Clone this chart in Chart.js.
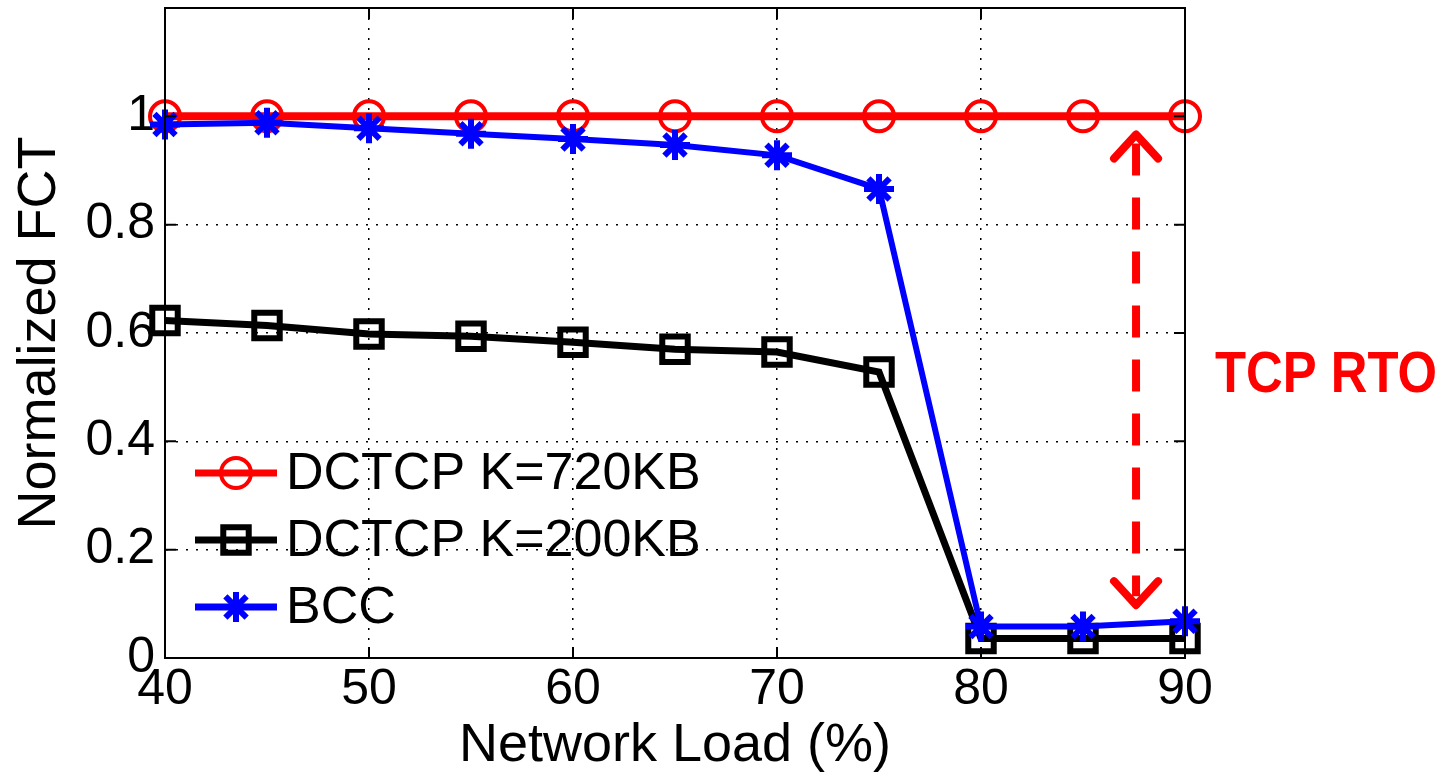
<!DOCTYPE html>
<html>
<head>
<meta charset="utf-8">
<script src="https://cdn.jsdelivr.net/npm/chart.js@4"></script>
<style>
  html, body { margin: 0; padding: 0; background: #fff; }
  #wrap { width: 1444px; height: 779px; position: relative; }
</style>
</head>
<body>
<div id="wrap"><canvas id="fctChart"></canvas></div>
<script>
// ==========================
// DATA
// ==========================

const loads = [40, 45, 50, 55, 60, 65, 70, 75, 80, 85, 90];

const dctcp720 = [1, 1, 1, 1, 1, 1, 1, 1, 1, 1, 1];

const dctcp200 = [0.623, 0.614, 0.598, 0.594, 0.583, 0.57, 0.565, 0.528, 0.036, 0.036, 0.036];

const bcc = [0.985, 0.988, 0.978, 0.968, 0.958, 0.947, 0.928, 0.866, 0.058, 0.058, 0.068];

const seriesNames = ["DCTCP K=720KB", "DCTCP K=200KB", "BCC"];

const yTickValues = [0, 0.2, 0.4, 0.6, 0.8, 1];

// the red "TCP RTO" arrow, in data units
const arrowLoad = 87.6;
const arrowSpan = [0.092, 0.972];

const FONT = "'Liberation Sans', Arial, Helvetica, sans-serif";

function points(ys) {
    return loads.map((x, i) => ({ x: x, y: ys[i] }));
}

// ==========================
// FRAME + INSIDE TICKS
// ==========================

const framePlugin = {
    id: "frame",
    afterDraw(chart) {
        const ctx = chart.ctx;
        const a = chart.chartArea;
        const xs = chart.scales.x;
        const ys = chart.scales.y;
        ctx.save();
        ctx.strokeStyle = "#000";
        ctx.lineWidth = 2;
        ctx.strokeRect(a.left, a.top, a.right - a.left, a.bottom - a.top);
        ctx.beginPath();
        xs.ticks.forEach(t => {
            const px = xs.getPixelForValue(t.value);
            ctx.moveTo(px, a.bottom); ctx.lineTo(px, a.bottom - 11);
            ctx.moveTo(px, a.top); ctx.lineTo(px, a.top + 11);
        });
        ys.ticks.forEach(t => {
            const py = ys.getPixelForValue(t.value);
            ctx.moveTo(a.left, py); ctx.lineTo(a.left + 11, py);
            ctx.moveTo(a.right, py); ctx.lineTo(a.right - 11, py);
        });
        ctx.stroke();
        ctx.restore();
    }
};

// ==========================
// LEGEND (inside, no box)
// ==========================

const legendPlugin = {
    id: "insideLegend",
    afterDatasetsDraw(chart) {
        const ctx = chart.ctx;
        const a = chart.chartArea;
        ctx.save();
        chart.data.datasets.forEach((ds, i) => {
            const y = a.top + 465 + i * 67;
            const x0 = a.left + 30;
            const x1 = a.left + 112;
            ctx.strokeStyle = ds.borderColor;
            ctx.lineWidth = 7;
            ctx.beginPath();
            ctx.moveTo(x0, y);
            ctx.lineTo(x1, y);
            ctx.stroke();
            ctx.lineWidth = ds.pointBorderWidth;
            ctx.fillStyle = ds.pointBackgroundColor;
            ctx.strokeStyle = ds.pointBorderColor;
            Chart.helpers.drawPoint(ctx, {
                pointStyle: ds.pointStyle,
                radius: ds.pointRadius,
                borderWidth: ds.pointBorderWidth,
                rotation: 0
            }, (x0 + x1) / 2, y);
            ctx.fillStyle = "#000";
            ctx.font = "52px " + FONT;
            ctx.textBaseline = "middle";
            ctx.textAlign = "left";
            ctx.fillText(ds.label, x1 + 9, y + 2, 430);
        });
        ctx.restore();
    }
};

// ==========================
// TCP RTO ANNOTATION
// ==========================

const rtoPlugin = {
    id: "rto",
    afterDraw(chart) {
        const ctx = chart.ctx;
        const xs = chart.scales.x;
        const ys = chart.scales.y;
        const x = xs.getPixelForValue(arrowLoad);
        const yTop = ys.getPixelForValue(arrowSpan[1]);
        const yBot = ys.getPixelForValue(arrowSpan[0]);
        ctx.save();
        ctx.strokeStyle = "#ff0000";
        ctx.lineWidth = 8;

        // dashed shaft
        ctx.setLineDash([32, 22]);
        ctx.lineCap = "butt";
        ctx.beginPath();
        ctx.moveTo(x, yTop + 12);
        ctx.lineTo(x, yBot - 12);
        ctx.stroke();

        // open heads
        ctx.setLineDash([]);
        ctx.lineCap = "round";
        ctx.lineJoin = "round";
        ctx.beginPath();
        ctx.moveTo(x - 22, yTop + 27);
        ctx.lineTo(x, yTop + 3);
        ctx.lineTo(x + 22, yTop + 27);
        ctx.moveTo(x - 22, yBot - 27);
        ctx.lineTo(x, yBot - 3);
        ctx.lineTo(x + 22, yBot - 27);
        ctx.stroke();

        ctx.fillStyle = "#ff0000";
        ctx.font = "bold 58px " + FONT;
        ctx.textBaseline = "middle";
        ctx.textAlign = "left";
        ctx.fillText("TCP RTO", chart.chartArea.right + 30, ys.getPixelForValue(0.52), 222);
        ctx.restore();
    }
};

// ==========================
// CHART
// ==========================

const ctx = document.getElementById("fctChart");

new Chart(ctx, {

    type: "line",

    data: {
        datasets: [
            {
                label: seriesNames[0],
                data: points(dctcp720),
                borderColor: "#ff0000",
                backgroundColor: "rgba(0,0,0,0)",
                borderWidth: 8,
                pointStyle: "circle",
                pointRadius: 15,
                pointBorderWidth: 4,
                pointBackgroundColor: "rgba(0,0,0,0)",
                pointBorderColor: "#ff0000",
                clip: false,
                order: 3
            },
            {
                label: seriesNames[1],
                data: points(dctcp200),
                borderColor: "#000000",
                backgroundColor: "rgba(0,0,0,0)",
                borderWidth: 7,
                pointStyle: "rect",
                pointRadius: 18,
                pointBorderWidth: 6,
                pointBackgroundColor: "rgba(0,0,0,0)",
                pointBorderColor: "#000000",
                clip: false,
                order: 2
            },
            {
                label: seriesNames[2],
                data: points(bcc),
                borderColor: "#0000ff",
                backgroundColor: "rgba(0,0,0,0)",
                borderWidth: 6,
                pointStyle: "star",
                pointRadius: 15,
                pointBorderWidth: 6,
                pointBackgroundColor: "#0000ff",
                pointBorderColor: "#0000ff",
                clip: false,
                order: 1
            }
        ]
    },

    options: {
        responsive: true,
        maintainAspectRatio: false,
        animation: false,
        events: [],
        layout: {
            autoPadding: false,
            padding: { top: 8, right: 259, bottom: 0, left: 0 }
        },
        elements: {
            line: { tension: 0 }
        },
        plugins: {
            legend: { display: false },
            tooltip: { enabled: false }
        },
        scales: {
            x: {
                type: "linear",
                min: 40,
                max: 90,
                afterFit: s => {
                    s.height = 121;
                    s.paddingLeft = 0;
                    s.paddingRight = 0;
                },
                ticks: {
                    stepSize: 10,
                    color: "#000",
                    padding: 2,
                    maxRotation: 0,
                    font: { family: FONT, size: 50 }
                },
                grid: {
                    color: "#000",
                    lineWidth: 1.5,
                    drawTicks: false
                },
                border: { display: true, color: "#000", width: 2, dash: [2, 8] },
                title: {
                    display: true,
                    text: "Network Load (%)",
                    color: "#000",
                    padding: { top: 0, bottom: 0 },
                    font: { family: FONT, size: 54 }
                }
            },
            y: {
                min: 0,
                max: 1.2,
                afterFit: s => {
                    s.width = 165;
                    s.paddingTop = 0;
                    s.paddingBottom = 0;
                },
                afterBuildTicks: s => {
                    s.ticks = yTickValues.concat([1.2]).map(v => ({ value: v }));
                },
                ticks: {
                    color: "#000",
                    padding: 10,
                    font: { family: FONT, size: 50 },
                    callback: v => (v > 1.1 ? "" : String(Number(v.toFixed(1))))
                },
                grid: {
                    color: "#000",
                    lineWidth: 1.5,
                    drawTicks: false
                },
                border: { display: true, color: "#000", width: 2, dash: [2, 8] },
                title: {
                    display: true,
                    text: "Normalized FCT",
                    color: "#000",
                    padding: { top: 8, bottom: 0 },
                    font: { family: FONT, size: 54 }
                }
            }
        }
    },

    plugins: [framePlugin, legendPlugin, rtoPlugin]
});
</script>
</body>
</html>
